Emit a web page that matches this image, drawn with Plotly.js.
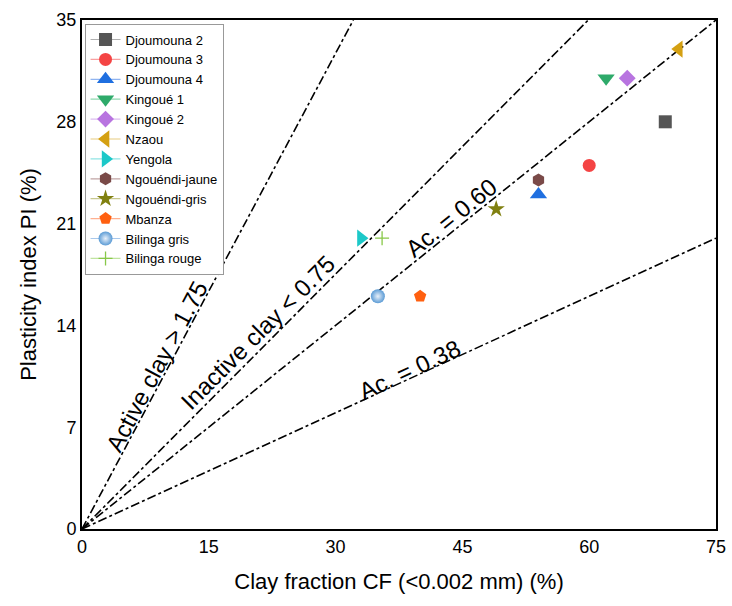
<!DOCTYPE html>
<html>
<head>
<meta charset="utf-8">
<script src="https://cdn.plot.ly/plotly-3.0.1.min.js"></script>
<style>html,body{margin:0;padding:0;background:#fff;}#chart{width:732px;height:606px;}</style>
</head>
<body>
<div id="chart"></div>
<script>
// Sample data (clay fraction CF %, plasticity index PI %)
const sampleNames = ["Djoumouna 2","Djoumouna 3","Djoumouna 4","Kingoué 1","Kingoué 2","Nzaou","Yengola","Ngouéndi-jaune","Ngouéndi-gris","Mbanza","Bilinga gris","Bilinga rouge"];
const clayFraction = [69, 60, 54, 62, 64.5, 70.6, 33, 54, 49, 40, 35, 35.5];
const plasticityIndex = [28, 25, 23, 31, 31, 33, 20, 24, 22, 16, 16, 20];
const markerSymbols = ["square","circle","triangle-up","triangle-down","diamond","triangle-left","triangle-right","hexagon","star","pentagon","circle","cross-thin"];
const markerColors = ["#555555","#f44444","#1f6fe0","#2eaa6a","#b874e0","#d4a012","#1cc8c8","#7a4a48","#808010","#ff6010","#5b9bd5","#88c848"];
const legendLineColors = ["#b0b0b0","#f8a0a0","#90b4f0","#90d8b0","#dcbcf0","#e8cc80","#90e4e4","#c0a4a4","#c8c890","#ffb090","#a8c8ec","#c0e4a0"];

// Reference lines (from origin to where they leave the plot)
const refLineNames = ["Active clay > 1.75","Inactive clay < 0.75","Ac. = 0.60","Ac. = 0.38"];
const refLineX = [[0, 32.1],[0, 59.9],[0, 75],[0, 75]];
const refLineY = [[0, 35],[0, 35],[0, 35],[0, 20]];

// Label positions for the reference lines
const refLabelX = [8.8, 20.8, 43.7, 38.8];
const refLabelY = [11.2, 13.5, 21.4, 11.0];
const refLabelAngle = [-62, -45, -39, -25];

const xTicks = [0, 15, 30, 45, 60, 75];
const yTicks = [0, 7, 14, 21, 28, 35];

const traces = [];
refLineNames.forEach((n, i) => {
  traces.push({
    x: refLineX[i], y: refLineY[i], mode: 'lines', name: n, showlegend: false,
    line: {color: '#000', width: 1.6, dash: 'dashdot'}, hoverinfo: 'skip'
  });
});
sampleNames.forEach((n, i) => {
  const m = {symbol: markerSymbols[i], color: markerColors[i], size: 13, line: {width: 0}};
  if (markerSymbols[i] === 'cross-thin') { m.line = {color: markerColors[i], width: 1.3}; m.size = 10; }
  if (n === 'Bilinga gris') { m.gradient = {type: 'radial', color: '#e8f0fa'}; m.size = 14; }
  if (markerSymbols[i] === 'star') m.size = 13;
  if (markerSymbols[i].indexOf('triangle') === 0) m.size = 15;
  traces.push({
    x: [clayFraction[i]], y: [plasticityIndex[i]], mode: 'lines+markers', name: n,
    marker: m, line: {color: legendLineColors[i], width: 1.2}
  });
});

const annotations = refLineNames.map((n, i) => ({
  x: refLabelX[i], y: refLabelY[i], xref: 'x', yref: 'y', text: n, showarrow: false,
  textangle: refLabelAngle[i], font: {family: 'Liberation Sans, Arial, sans-serif', size: 24, color: '#000'}
}));

const layout = {
  width: 732, height: 606,
  margin: {l: 82, r: 16, t: 20, b: 77},
  paper_bgcolor: '#fff', plot_bgcolor: '#fff',
  font: {family: 'Liberation Sans, Arial, sans-serif', color: '#000'},
  showlegend: true,
  legend: {
    x: 0.004, y: 0.993, xanchor: 'left', yanchor: 'top',
    bgcolor: '#fff', bordercolor: '#999', borderwidth: 1,
    font: {size: 13, family: 'Liberation Sans, Arial, sans-serif', color: '#000'},
    tracegroupgap: 0, itemwidth: 30
  },
  xaxis: {
    range: [0, 75], tickvals: xTicks, ticktext: xTicks.map(String),
    showline: true, linecolor: '#000', linewidth: 2, mirror: true,
    showgrid: false, zeroline: false, ticks: '',
    tickfont: {size: 18},
    title: {text: 'Clay fraction CF (<0.002 mm) (%)', standoff: 18, font: {size: 22}}
  },
  yaxis: {
    range: [0, 35], tickvals: yTicks, ticktext: yTicks.map(String),
    showline: true, linecolor: '#000', linewidth: 2, mirror: true,
    showgrid: false, zeroline: false, ticks: '',
    tickfont: {size: 18},
    title: {text: 'Plasticity index PI (%)', standoff: 14, font: {size: 22}}
  },
  annotations: annotations
};

Plotly.newPlot('chart', traces, layout, {displayModeBar: false, staticPlot: true});
</script>
</body>
</html>
